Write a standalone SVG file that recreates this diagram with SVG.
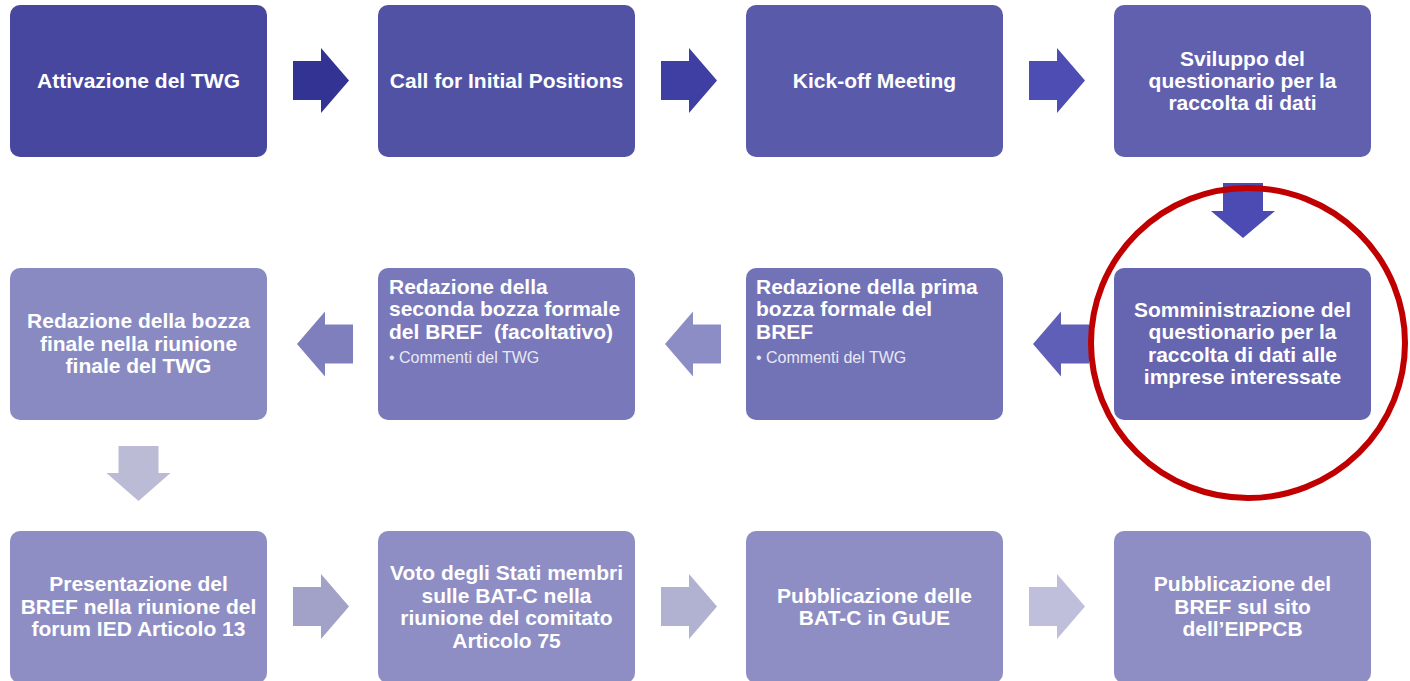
<svg xmlns="http://www.w3.org/2000/svg" width="1410" height="681" viewBox="0 0 1410 681">
<style>
.t{font-family:"Liberation Sans",Arial,sans-serif;font-weight:bold;font-size:21px;fill:#ffffff;text-anchor:middle}
.l{font-family:"Liberation Sans",Arial,sans-serif;font-weight:bold;font-size:21px;fill:#ffffff;white-space:pre}
.b{font-family:"Liberation Sans",Arial,sans-serif;font-size:16px;fill:#E8E8F4;white-space:pre}
</style>
<rect width="1410" height="681" fill="#ffffff"/>
<g id="connectors">
<path d="M293,61 H321 V48 L349,80.5 L321,113 V100 H293 Z" fill="#333393"/>
<path d="M661,61 H689 V48 L717,80.5 L689,113 V100 H661 Z" fill="#3E3EA3"/>
<path d="M1029,61 H1057 V48 L1085,80.5 L1057,113 V100 H1029 Z" fill="#4D4DB3"/>
<path d="M1223,183 H1263 V211 H1275 L1243,238 L1211,211 H1223 Z" fill="#4B4BB3"/>
<path d="M1033,344 L1061,311.5 V324.5 H1089 V363.5 H1061 V376.5 Z" fill="#5F5FB8"/>
<path d="M665,344 L693,311.5 V324.5 H721 V363.5 H693 V376.5 Z" fill="#8D8DC5"/>
<path d="M297,344 L325,311.5 V324.5 H353 V363.5 H325 V376.5 Z" fill="#7F7FBD"/>
<path d="M118.5,446 H158.5 V473 H170.5 L138.5,501 L106.5,473 H118.5 Z" fill="#BBBBD6"/>
<path d="M293,587 H321 V574 L349,606.5 L321,639 V626 H293 Z" fill="#A2A2C8"/>
<path d="M661,587 H689 V574 L717,606.5 L689,639 V626 H661 Z" fill="#B1B1D2"/>
<path d="M1029,587 H1057 V574 L1085,606.5 L1057,639 V626 H1029 Z" fill="#BFBFDB"/>
</g>
<g id="n1"><rect x="10" y="5" width="257" height="152" rx="10" fill="#47479F"/>
<text class="t" x="138.5" y="87.5">Attivazione del TWG</text></g>
<g id="n2"><rect x="378" y="5" width="257" height="152" rx="10" fill="#5252A5"/>
<text class="t" x="506.5" y="87.5">Call for Initial Positions</text></g>
<g id="n3"><rect x="746" y="5" width="257" height="152" rx="10" fill="#5A5AAB"/>
<text class="t" x="874.5" y="87.5">Kick-off Meeting</text></g>
<g id="n4"><rect x="1114" y="5" width="257" height="152" rx="10" fill="#6060AF"/>
<text class="t" x="1242.5" y="65.5">Sviluppo del</text>
<text class="t" x="1242.5" y="87.5">questionario per la</text>
<text class="t" x="1242.5" y="109.5">raccolta di dati</text></g>
<g id="n5"><rect x="1114" y="268" width="257" height="152" rx="10" fill="#6565B0"/>
<text class="t" x="1242.5" y="316.5">Somministrazione del</text>
<text class="t" x="1242.5" y="339">questionario per la</text>
<text class="t" x="1242.5" y="361.5">raccolta di dati alle</text>
<text class="t" x="1242.5" y="384">imprese interessate</text></g>
<g id="n6"><rect x="746" y="268" width="257" height="152" rx="10" fill="#7272B6"/>
<text class="l" x="756" y="293.5">Redazione della prima</text>
<text class="l" x="756" y="316">bozza formale del</text>
<text class="l" x="756" y="338.5">BREF</text>
<text class="b" x="756" y="363">• Commenti del TWG</text></g>
<g id="n7"><rect x="378" y="268" width="257" height="152" rx="10" fill="#7878BA"/>
<text class="l" x="389" y="293.5">Redazione della</text>
<text class="l" x="389" y="316">seconda bozza formale</text>
<text class="l" x="389" y="338.5">del BREF  (facoltativo)</text>
<text class="b" x="389" y="363">• Commenti del TWG</text></g>
<g id="n8"><rect x="10" y="268" width="257" height="152" rx="10" fill="#8A8AC3"/>
<text class="t" x="138.5" y="328">Redazione della bozza</text>
<text class="t" x="138.5" y="350.5">finale nella riunione</text>
<text class="t" x="138.5" y="373">finale del TWG</text></g>
<g id="n9"><rect x="10" y="531" width="257" height="152" rx="10" fill="#8E8EC4"/>
<text class="t" x="138.5" y="591">Presentazione del</text>
<text class="t" x="138.5" y="613.5">BREF nella riunione del</text>
<text class="t" x="138.5" y="636">forum IED Articolo 13</text></g>
<g id="n10"><rect x="378" y="531" width="257" height="152" rx="10" fill="#8E8EC4"/>
<text class="t" x="506.5" y="580">Voto degli Stati membri</text>
<text class="t" x="506.5" y="602.5">sulle BAT-C nella</text>
<text class="t" x="506.5" y="625">riunione del comitato</text>
<text class="t" x="506.5" y="647.5">Articolo 75</text></g>
<g id="n11"><rect x="746" y="531" width="257" height="152" rx="10" fill="#8E8EC4"/>
<text class="t" x="874.5" y="602.5">Pubblicazione delle</text>
<text class="t" x="874.5" y="625">BAT-C in GuUE</text></g>
<g id="n12"><rect x="1114" y="531" width="257" height="152" rx="10" fill="#8E8EC4"/>
<text class="t" x="1242.5" y="591">Pubblicazione del</text>
<text class="t" x="1242.5" y="613.5">BREF sul sito</text>
<text class="t" x="1242.5" y="636">dell’EIPPCB</text></g>
<ellipse id="highlight" cx="1248" cy="343" rx="157" ry="155" fill="none" stroke="#C00000" stroke-width="6"/>
</svg>
